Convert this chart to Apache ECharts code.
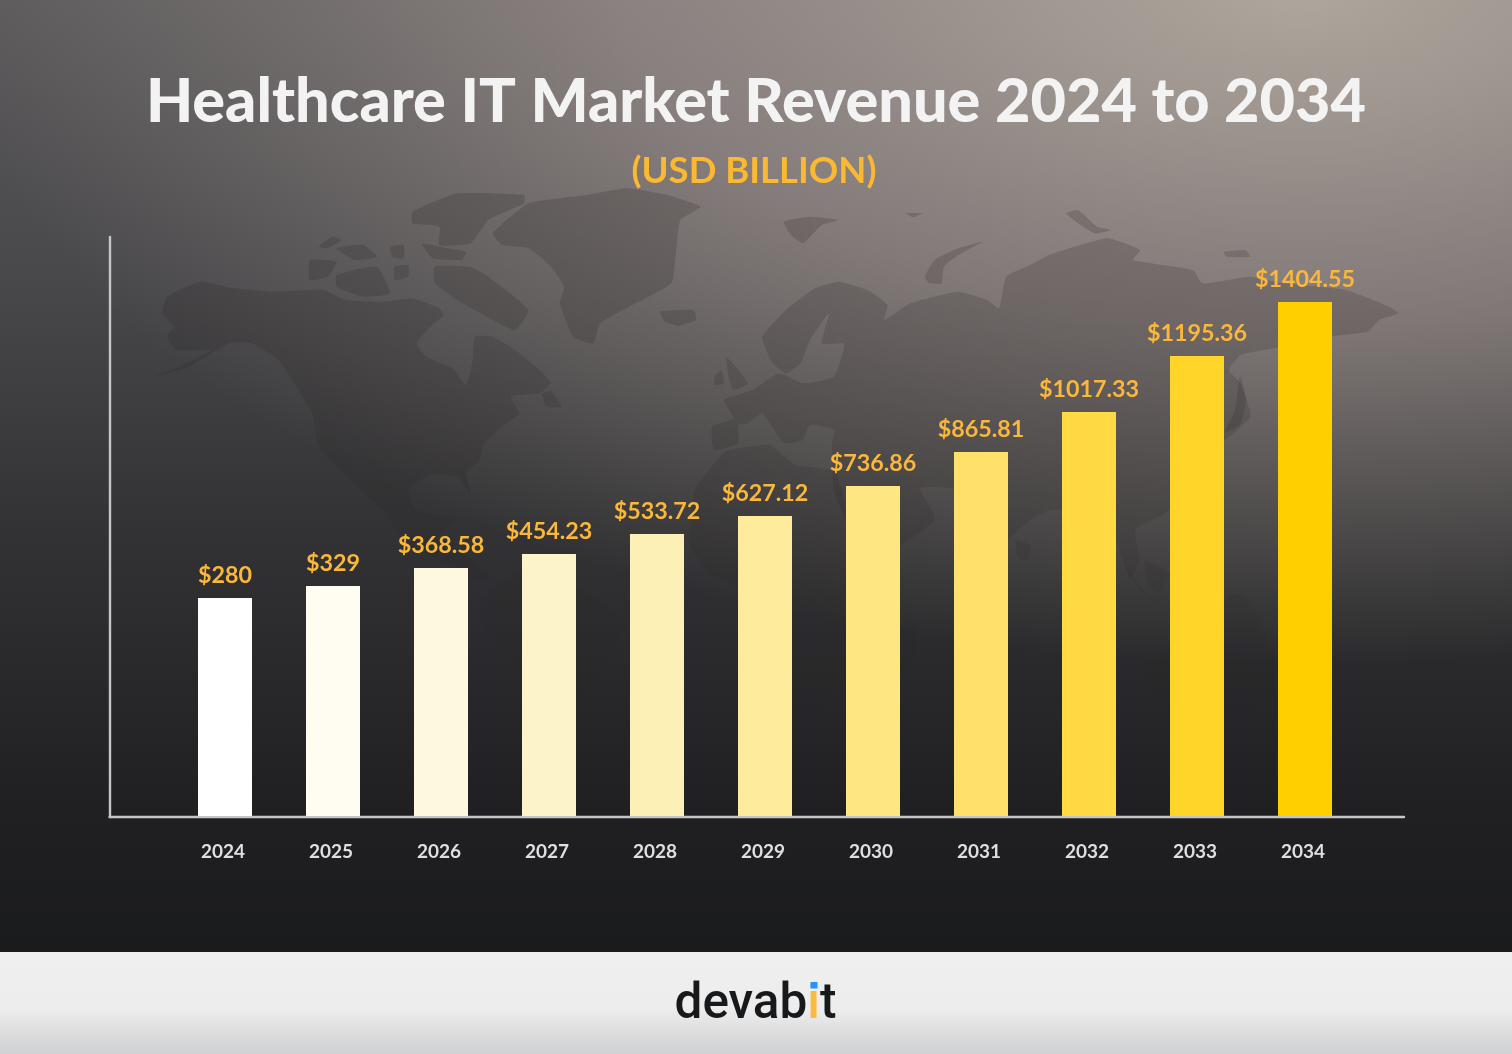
<!DOCTYPE html>
<html>
<head>
<meta charset="utf-8">
<style>html,body{margin:0;padding:0;background:#1b1c1e}#c{width:1512px;height:1054px}</style>
<script src="https://cdn.jsdelivr.net/npm/echarts@6/dist/echarts.min.js"></script>
</head>
<body>
<div id="c"></div>
<script>
// Chart data
const years = ['2024','2025','2026','2027','2028','2029','2030','2031','2032','2033','2034'];
// Printed revenue labels (USD billion)
const valueLabels = ['$280','$329','$368.58','$454.23','$533.72','$627.12','$736.86','$865.81','$1017.33','$1195.36','$1404.55'];
// The reference's bars are not proportional to the printed labels: these are the drawn heights
const barHeights = [218,230,248,262,282,300,330,364,404,460,514];
const barColors = ['#ffffff','#fffcf1','#fef8e0','#fdf3ca','#fdf0b6','#feeb9c','#fee682','#ffe06a','#ffda42','#ffd52a','#ffd000'];

const titleText = 'Healthcare IT Market Revenue 2024 to 2034';
const subtitleText = '(USD BILLION)';

// Decorative world-map silhouette (background art, traced by eye)
const z1 = a => a.map(p => [100 + p[0] / 2.24, 180 + p[1] / 3]);
const z2 = a => a.map(p => [700 + p[0] / 2.09, 180 + p[1] / 3]);
const mapShapes = [
  z1([[150,350],[225,305],[300,325],[385,335],[500,330],[550,360],[640,365],[700,355],[760,385],[770,405],[740,440],[710,490],[730,530],[790,565],[820,615],[835,540],[840,470],[880,470],[930,510],[985,570],[1010,610],[985,640],[920,650],[940,700],[905,735],[860,790],[850,840],[820,880],[830,940],[800,890],[740,885],[690,930],[710,990],[770,1010]]).concat(
    [[455,520],[440,535],[465,555],[490,575],[480,582],[450,565],[420,550],[395,530]],
    z1([[640,1000],[560,900],[490,800],[475,700],[440,620],[400,540],[340,490],[290,490],[200,560],[120,590],[170,565],[250,510],[170,510],[150,470],[165,440],[140,400]])),
  z1([[880,160],[960,70],[1090,45],[1180,25],[1270,45],[1345,80],[1300,120],[1290,220],[1280,310],[1200,370],[1120,430],[1105,490],[1060,470],[1030,370],[1040,320],[1010,260],[960,205],[900,195]]),
  z1([[740,70],[800,40],[950,45],[950,70],[870,120],[830,190],[760,195],[760,140],[700,130],[700,95]]),
  z1([[750,260],[830,260],[870,290],[960,390],[930,450],[880,420],[800,360],[750,310]]),
  z1([[530,285],[620,260],[650,340],[590,350],[530,320]]),
  z1([[470,240],[530,245],[510,290],[470,300]]),
  z1([[530,205],[590,195],[620,230],[570,240]]),
  z1([[650,200],[680,195],[680,235],[655,230]]),
  z1([[660,260],[690,255],[690,290],[660,300]]),
  z1([[490,200],[520,170],[540,180],[510,205]]),
  z1([[720,190],[760,200],[820,215],[810,240],[745,235]]),
  z1([[1255,395],[1330,390],[1335,420],[1295,437],[1265,425]]),
  z1([[990,642],[1010,632],[1035,680],[1000,680]]),
  // Eurasia
  z2([[130,470],[180,390],[240,325],[290,305],[350,330],[392,375],[385,420],[440,370],[540,335],[600,360],[625,385],[640,290],[690,255],[730,225],[850,175],[920,210],[905,240],[1030,270],[1050,310],[1150,290],[1220,310],[1350,330],[1440,380],[1460,400],[1420,420],[1395,455],[1310,470],[1200,505],[1130,525],[1105,570],[1130,610],[1150,710],[1090,790],[1040,860]]).concat(
    [[1170,510],[1135,530],[1140,560],[1130,578],[1110,525],[1085,510],[1050,510],[1030,520],[1005,540],[985,510],[965,490],[920,488],[935,520],[870,560],[835,495],[832,445]],
    z2([[280,750],[230,735],[215,780],[175,790],[130,700],[100,730],[80,735],[80,790],[30,810],[25,740],[70,715],[50,660],[110,630],[165,580],[215,610],[280,590],[300,510],[300,490],[255,490],[270,400],[230,480],[210,550],[180,580],[150,545]])),
  z2([[470,290],[490,240],[540,205],[590,185],[540,225],[510,260],[505,310],[480,310]]),
  z2([[175,125],[230,110],[290,120],[255,135],[215,190],[190,165]]),
  z2([[430,100],[465,100],[445,112]]),
  z2([[765,100],[790,90],[830,140],[860,150],[825,160],[790,130]]),
  z2([[1095,215],[1140,210],[1150,230],[1100,230]]),
  z2([[55,530],[100,610],[70,630],[60,590]]),
  z2([[30,590],[45,570],[50,610],[30,615]]),
  [[1240,375],[1246,400],[1240,425],[1225,432],[1235,410]],
  // Africa
  [[725,452],[770,445],[795,465],[835,472],[860,550],[885,560],[865,610],[850,640],[845,680],[810,720],[780,725],[765,670],[755,620],[745,590],[710,575],[690,545],[695,490]],
  [[900,630],[918,628],[912,665],[900,670]],
  // South America
  [[490,590],[525,570],[565,580],[590,595],[625,620],[615,650],[595,680],[570,710],[550,740],[530,790],[515,785],[515,730],[525,680],[490,640],[480,610]],
  // South-East Asia & Oceania
  [[1125,565],[1150,600],[1160,605],[1140,590]],
  [[1145,560],[1170,575],[1160,592],[1148,585]],
  [[1147,665],[1175,640],[1195,620],[1225,600],[1240,593],[1255,610],[1272,650],[1275,690],[1250,715],[1225,712],[1190,695],[1150,705]],
  [[1343,715],[1355,725],[1367,745],[1350,740]],
  [[1016,540],[1030,545],[1028,560],[1018,558]]
];

const chart = echarts.init(document.getElementById('c'), null, {renderer:'canvas', width:1512, height:1054});

const mapFill = {type:'linear',x:0,y:190,x2:0,y2:800,global:true,colorStops:[
  {offset:0,color:'rgba(35,30,30,.2)'},{offset:.5,color:'rgba(35,30,30,.16)'},{offset:1,color:'rgba(35,30,30,.05)'}]};

const bg = [
  {type:'rect', z:-30, silent:true, shape:{x:0,y:0,width:1512,height:952},
   style:{fill:{type:'linear',x:0,y:0,x2:0,y2:1,global:false,colorStops:[
     {offset:0,color:'#5c5a5c'},{offset:.3,color:'#48474a'},{offset:.55,color:'#333335'},{offset:.85,color:'#202022'},{offset:1,color:'#1a1b1d'}]}}},
  {type:'rect', z:-29, silent:true, scaleY:.5, shape:{x:0,y:0,width:1512,height:1904},
   style:{fill:{type:'radial',x:1300,y:-20,r:1350,global:true,colorStops:[
     {offset:0,color:'rgba(195,186,172,.8)'},{offset:.5,color:'rgba(185,170,165,.5)'},{offset:1,color:'rgba(170,160,150,0)'}]}}},
  {type:'rect', z:-28, silent:true, shape:{x:0,y:952,width:1512,height:102},
   style:{fill:{type:'linear',x:0,y:0,x2:0,y2:1,colorStops:[
     {offset:0,color:'#efefef'},{offset:.55,color:'#ededee'},{offset:1,color:'#cfd0d1'}]}}}
];
const mapEls = mapShapes.map(p => ({type:'polygon', z:-20, silent:true, shape:{points:p,smooth:0.15},
  style:{fill:mapFill}}));
const logo = [
  {type:'text', z:10, silent:true, x:674.5, y:980.5,
   style:{text:'{a|devab}{b|i}{a|t}', rich:{
     a:{fontFamily:'Roboto',fontWeight:500,fontSize:49.5,fill:'#17191b',color:'#17191b'},
     b:{fontFamily:'Roboto',fontWeight:500,fontSize:49.5,fill:'#fdb93c',color:'#fdb93c'}}}},
  {type:'rect', z:11, silent:true, shape:{x:810.5,y:982,width:7,height:6.5}, style:{fill:'#1e96fc'}}
];

chart.setOption({
  animation:false,
  backgroundColor:'#1b1c1e',
  title:[
    {text:titleText,left:'center',top:66.5,textStyle:{fontFamily:'Lato',fontWeight:900,fontSize:61.2,color:'#f3f3f3'}},
    {text:subtitleText,left:749,top:147.5,textAlign:'center',textStyle:{fontFamily:'Lato',fontWeight:700,fontSize:36.5,color:'#fbb832'}}
  ],
  graphic:{elements:[...bg,...mapEls,...logo]},
  grid:[
    {left:109.5,top:237,width:1294.5,height:580},
    {left:171,top:237,width:1188,height:579}
  ],
  xAxis:[
    {gridIndex:0,type:'value',min:0,max:1,axisLine:{show:true,onZero:false,lineStyle:{color:'#c6c6c6',width:2.4}},axisTick:{show:false},axisLabel:{show:false},splitLine:{show:false}},
    {gridIndex:1,type:'category',data:years,axisLine:{show:false},axisTick:{show:false},
     axisLabel:{margin:26,color:'#dfdfdf',fontFamily:'Lato',fontWeight:700,fontSize:19,padding:[0,4,0,0]}}
  ],
  yAxis:[
    {gridIndex:0,type:'value',min:0,max:1,axisLine:{show:true,onZero:false,lineStyle:{color:'#c6c6c6',width:2.4}},axisTick:{show:false},axisLabel:{show:false},splitLine:{show:false}},
    {gridIndex:1,type:'value',min:0,max:579,show:false,splitLine:{show:false}}
  ],
  series:[{
    type:'bar',xAxisIndex:1,yAxisIndex:1,barWidth:54,
    data:barHeights.map((h,i)=>({value:h,itemStyle:{color:barColors[i]}})),
    label:{show:true,position:'top',distance:11,
      formatter:p=>valueLabels[p.dataIndex],
      color:'#fab73d',fontFamily:'Lato',fontWeight:700,fontSize:23.3}
  }]
});
</script>
</body>
</html>
